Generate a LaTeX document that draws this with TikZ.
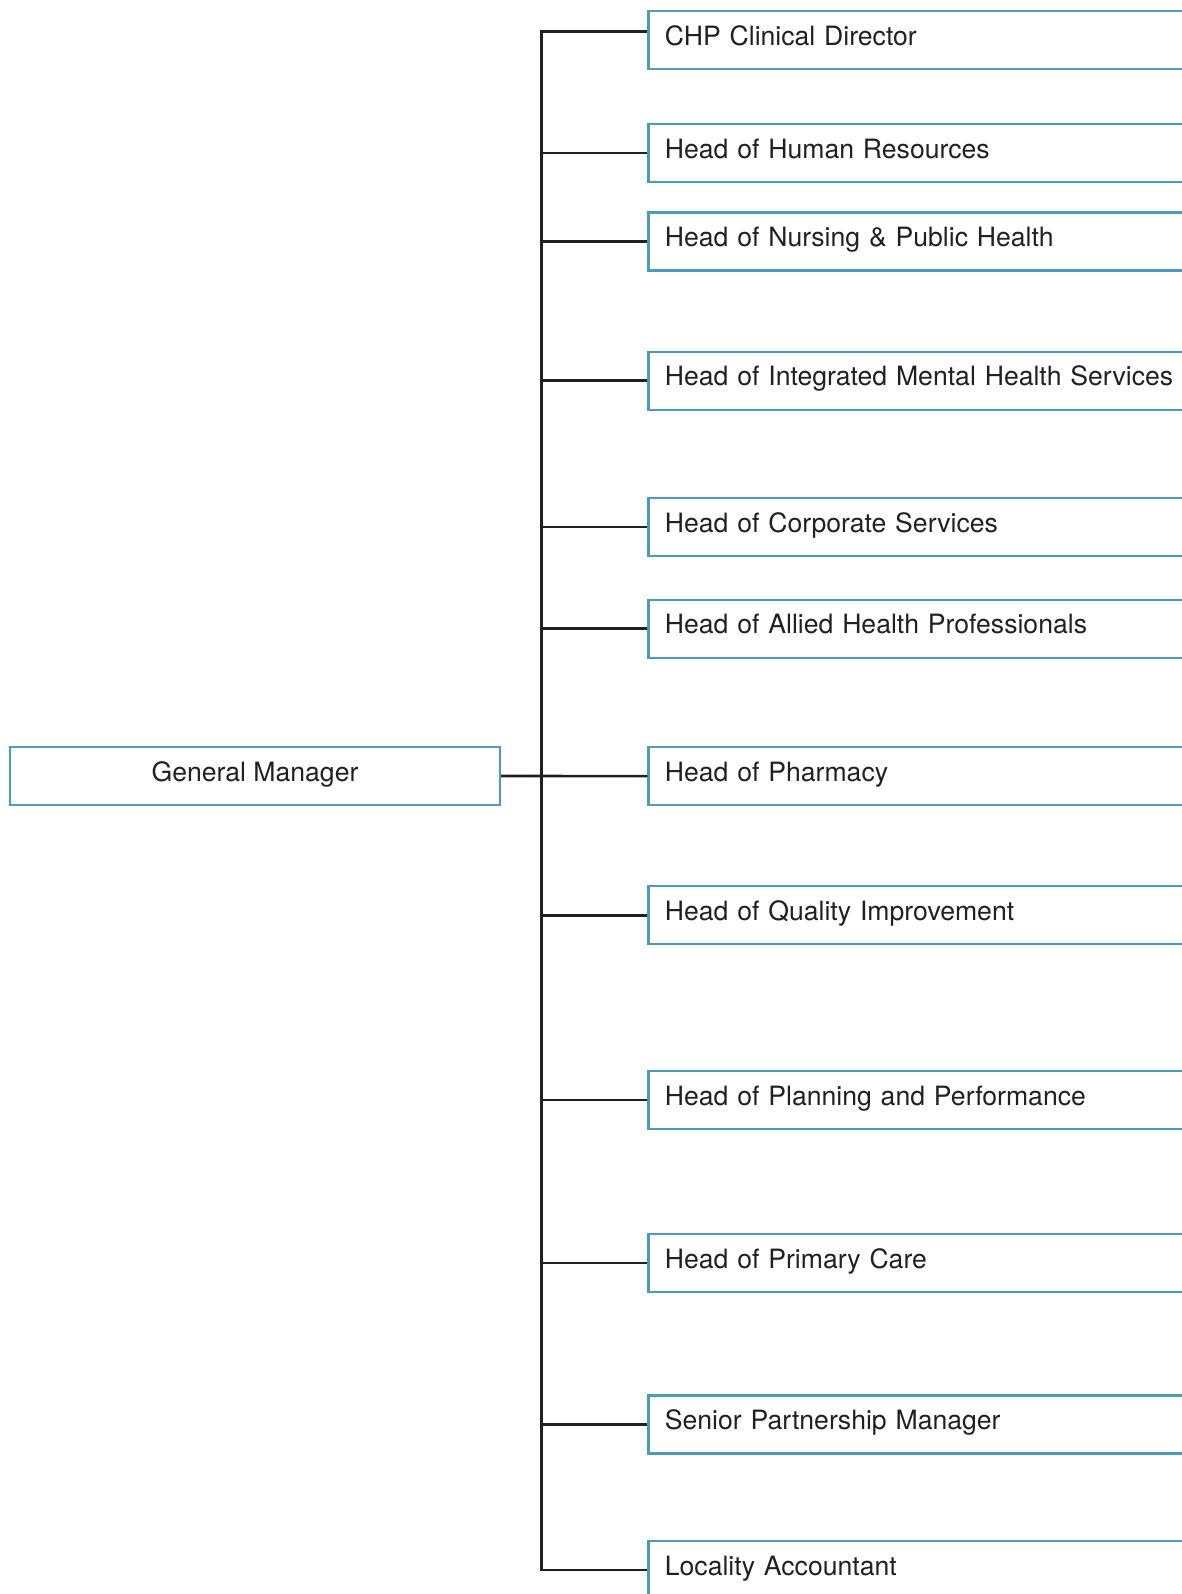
\documentclass[tikz,border=0pt]{standalone}
\usepackage{fontspec}
\setmainfont{TeX Gyre Heros}
\usetikzlibrary{positioning}
\definecolor{boxblue}{RGB}{74,157,186}
\definecolor{ink}{RGB}{35,31,32}

\begin{document}
\begin{tikzpicture}
	[
	x=0.5pt, y=-0.5pt,
	every node/.style = {font=\fontsize{13.3}{16}\selectfont, text=ink, text height=10pt, text depth=4.8pt},
	post/.style = {draw=boxblue, line width=1.1pt, rectangle, anchor=north west, minimum height=29pt, text width=300pt, inner xsep=8.2pt, align=left},
	chief/.style = {draw=boxblue, line width=1.1pt, rectangle, minimum height=29pt, minimum width=245pt},
	link/.style = {draw=ink, line width=1.3pt}
	]
	\useasboundingbox (0,0) rectangle (1182,1594);
	\clip (0,0) rectangle (1182,1594);
	\node[chief] (gm) at (255,776) {General Manager};
	\coordinate (spine) at (541.7,0);
	\node[post] (chp) at (647.4,10.2) {CHP Clinical Director};
	\node[post] (hr) at (647.4,123) {Head of Human Resources};
	\node[post] (nur) at (647.4,211.4) {Head of Nursing \& Public Health};
	\node[post] (ment) at (647.4,350.6) {Head of Integrated Mental Health Services};
	\node[post] (corp) at (647.4,497) {Head of Corporate Services};
	\node[post] (ahp) at (647.4,598.6) {Head of Allied Health Professionals};
	\node[post] (pha) at (647.4,746) {Head of Pharmacy};
	\node[post] (qual) at (647.4,885.2) {Head of Quality Improvement};
	\node[post] (plan) at (647.4,1070) {Head of Planning and Performance};
	\node[post] (prim) at (647.4,1232.7) {Head of Primary Care};
	\node[post] (spm) at (647.4,1394.4) {Senior Partnership Manager};
	\node[post] (acc) at (647.4,1539.7) {Locality Accountant};
	\draw[link] ([yshift=4.3pt]chp.west) -| (spine |- acc.west) -- (acc.west);
	\draw[link] (spine |- hr.west) -- (hr.west);
	\draw[link] (spine |- nur.west) -- (nur.west);
	\draw[link] (spine |- ment.west) -- (ment.west);
	\draw[link] (spine |- corp.west) -- (corp.west);
	\draw[link] (spine |- ahp.west) -- (ahp.west);
	\draw[link] (gm.east) -- (pha.west);
	\draw[link] (spine |- qual.west) -- (qual.west);
	\draw[link] (spine |- plan.west) -- (plan.west);
	\draw[link] (spine |- prim.west) -- (prim.west);
	\draw[link] (spine |- spm.west) -- (spm.west);
\end{tikzpicture}
\end{document}
